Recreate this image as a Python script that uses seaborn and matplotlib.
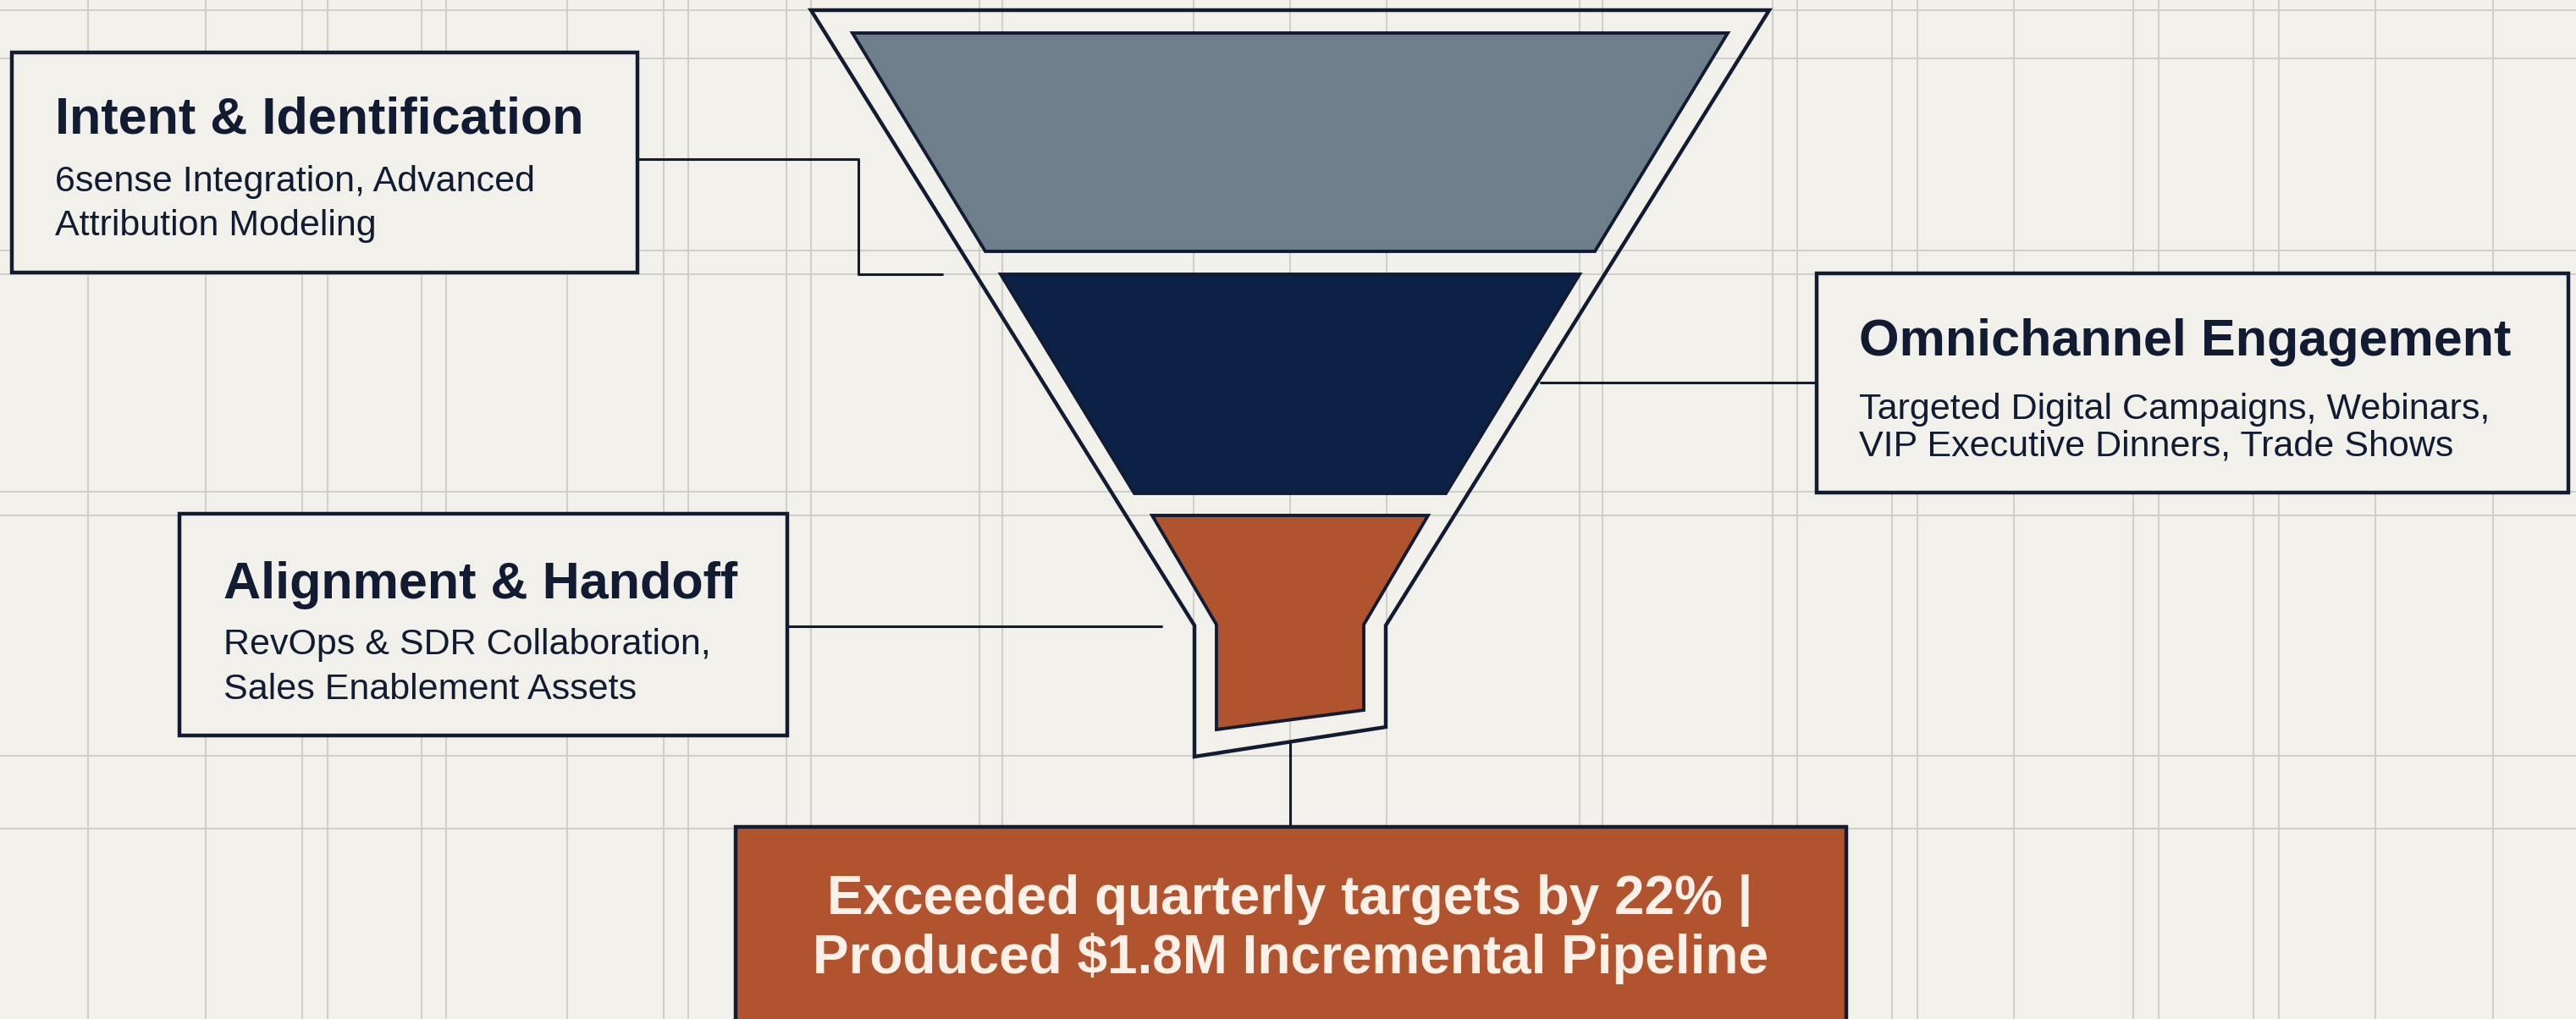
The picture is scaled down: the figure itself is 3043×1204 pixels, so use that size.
import matplotlib
matplotlib.use("Agg")
import matplotlib.pyplot as plt
import matplotlib.patches as mpatches
import pandas as pd
import seaborn as sns

# stage content
stage_titles = ["Intent & Identification", "Omnichannel Engagement", "Alignment & Handoff"]
stage_lines = [
    ["6sense Integration, Advanced", "Attribution Modeling"],
    ["Targeted Digital Campaigns, Webinars,", "VIP Executive Dinners, Trade Shows"],
    ["RevOps & SDR Collaboration,", "Sales Enablement Assets"],
]
stage_colors = ["#6e7f8b", "#0c2146", "#b0532f"]
result_lines = ["Exceeded quarterly targets by 22% |", "Produced $1.8M Incremental Pipeline"]

# funnel layers: top y, bottom y, half width at top, half width at bottom
layer_top = [39, 324, 609]
layer_bot = [297, 583, 738]
layer_hw_top = [517, 342, 163]
layer_hw_bot = [360, 184, 87]

# background grid (pixel positions)
grid_x = [104, 243, 357, 387, 498, 527, 670, 784, 813, 929, 958, 1157, 1184, 1410,
          1524, 1638, 1866, 1893, 2094, 2123, 2235, 2265, 2379, 2520, 2550, 2662,
          2692, 2806, 2945]
grid_y = [12, 69, 296, 324, 581, 609, 893, 979]

W, H = 3043, 1204
CX = 1524
BG = "#f1f0eb"
INK = "#111c33"

sns.set_theme(style="white")
plt.rcParams['font.family'] = ['Liberation Sans Narrow', 'Liberation Sans', 'DejaVu Sans']

fig = plt.figure(figsize=(W / 100, H / 100), dpi=100, facecolor=BG)
ax = fig.add_axes([0, 0, 1, 1])
ax.set_facecolor(BG)
ax.set_xlim(0, W)
ax.set_ylim(H, 0)
ax.axis("off")

for gx in grid_x:
    ax.axvline(gx, color="#cfcfca", lw=1.4, zorder=0)
for gy in grid_y:
    ax.axhline(gy, color="#cfcfca", lw=1.4, zorder=0)

# outer funnel outline
outer = [(CX - 566, 12), (CX + 566, 12), (CX + 113, 739), (CX + 113, 859),
         (CX - 113, 894), (CX - 113, 739)]
ax.add_patch(mpatches.Polygon(outer, closed=True, fill=False, ec=INK, lw=3.2,
                              joinstyle="miter", zorder=2))

# funnel layers
for i in range(3):
    t, b = layer_top[i], layer_bot[i]
    ht, hb = layer_hw_top[i], layer_hw_bot[i]
    pts = [(CX - ht, t), (CX + ht, t), (CX + hb, b), (CX - hb, b)]
    if i == 2:
        pts = [(CX - ht, t), (CX + ht, t), (CX + hb, b), (CX + hb, 839),
               (CX - hb, 862), (CX - hb, b)]
    ax.add_patch(mpatches.Polygon(pts, closed=True, fc=stage_colors[i], ec=INK,
                                  lw=2.8, joinstyle="miter", zorder=3))

# connectors
connectors = [
    ([753, 1014, 1014, 1113], [188, 188, 324, 324]),
    ([1820, 2146], [452, 452]),
    ([930, 1372], [740, 740]),
    ([CX, CX], [876, 977]),
]
for k, (xs, ys) in enumerate(connectors):
    df = pd.DataFrame({"x": xs, "y": ys})
    sns.lineplot(data=df, x="x", y="y", sort=False, estimator=None, color=INK,
                 lw=2.2, ax=ax, zorder=1)

# label boxes: (left, top, right, bottom)
boxes = [(14, 62, 753, 322), (2146, 323, 3034, 582), (212, 607, 930, 869)]
title_pos = [(65, 157), (2196, 420), (264, 707)]
line_pos = [(226, 278), (495, 539), (773, 826)]
for i in range(3):
    l, t, r, b = boxes[i]
    ax.add_patch(mpatches.Rectangle((l, t), r - l, b - t, fc=BG, ec=INK, lw=3.2, zorder=2))
    tx, ty = title_pos[i]
    ax.text(tx, ty, stage_titles[i], fontsize=44, fontweight="bold", color=INK,
            va="baseline", ha="left", zorder=4)
    for line, ly in zip(stage_lines[i], line_pos[i]):
        ax.text(tx, ly, line, fontsize=31, color=INK, va="baseline", ha="left", zorder=4)

# result box
ax.add_patch(mpatches.Rectangle((869, 977), 2181 - 869, 260, fc="#b1532f", ec=INK,
                                lw=3.2, zorder=2))
for line, ly in zip(result_lines, [1080, 1150]):
    ax.text(CX, ly, line, fontsize=46, fontweight="bold", color="#fcf1e8",
            va="baseline", ha="center", zorder=4)

fig.savefig("out.png", dpi=100, facecolor=BG)
